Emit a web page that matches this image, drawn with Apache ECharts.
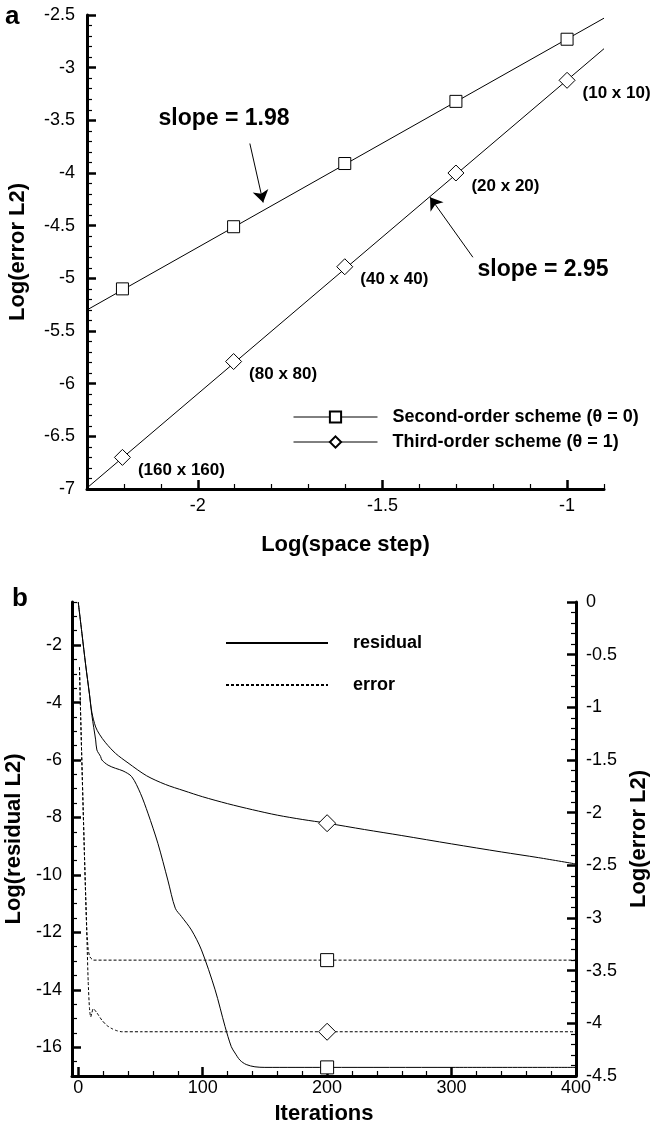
<!DOCTYPE html>
<html><head><meta charset="utf-8">
<script src="https://cdn.jsdelivr.net/npm/echarts@6/dist/echarts.min.js"></script>
<style>html,body{margin:0;padding:0;background:#fff}#c{width:653px;height:1121px}</style>
</head><body><div id="c"></div>
<script>
// ---------- Panel a ----------
const meshLabels = ['(10 x 10)', '(20 x 20)', '(40 x 40)', '(80 x 80)', '(160 x 160)'];
const logSpaceStep = [-1.0, -1.301, -1.602, -1.903, -2.204];
const errSecondOrder = [-2.73, -3.32, -3.91, -4.51, -5.10];
const errThirdOrder = [-3.12, -4.00, -4.89, -5.79, -6.70];
const fitX = [-2.3, -0.9];
const fitSecondOrder = [-5.30, -2.53];
const fitThirdOrder = [-6.99, -2.82];
const slopeTexts = ['slope = 1.98', 'slope = 2.95'];
const slopeTextX = [-1.929, -1.065];
const slopeTextY = [-3.48, -4.92];
const arrowFromX = [-1.859, -1.255];
const arrowFromY = [-3.72, -4.80];
const arrowToX = [-1.823, -1.371];
const arrowToY = [-4.28, -4.23];
const aXTicks = [-2, -1.5, -1];
const aXMinor = [-2.2, -2.1, -1.9, -1.8, -1.7, -1.6, -1.4, -1.3, -1.2, -1.1, -0.9];
const aYTicks = [-7, -6.5, -6, -5.5, -5, -4.5, -4, -3.5, -3, -2.5];
const aYMinor = [-6.9,-6.8,-6.7,-6.6,-6.4,-6.3,-6.2,-6.1,-5.9,-5.8,-5.7,-5.6,-5.4,-5.3,-5.2,-5.1,-4.9,-4.8,-4.7,-4.6,-4.4,-4.3,-4.2,-4.1,-3.9,-3.8,-3.7,-3.6,-3.4,-3.3,-3.2,-3.1,-2.9,-2.8,-2.7,-2.6];
const legendA = ['Second-order scheme (θ = 0)', 'Third-order scheme (θ = 1)'];

// ---------- Panel b ----------
const resThirdIter = [0, 3, 6, 9, 11, 14, 17, 22, 30, 40, 55, 70, 85, 100, 120, 140, 160, 180, 200, 230, 260, 300, 340, 370, 400];
const resThirdVal = [-0.5, -1.6, -2.7, -3.7, -4.35, -4.85, -5.1, -5.4, -5.77, -6.1, -6.55, -6.85, -7.07, -7.28, -7.52, -7.73, -7.92, -8.07, -8.2, -8.42, -8.63, -8.92, -9.2, -9.4, -9.62];
const resSecondIter = [0, 3, 6, 9, 11, 14, 15, 18, 19, 24, 30, 36, 43, 50, 56, 64, 72, 78, 83, 91, 99, 110, 118, 123, 126, 130, 135, 142, 150, 200, 300, 400];
const resSecondVal = [-0.5, -1.6, -2.7, -3.7, -4.45, -5.3, -5.65, -5.88, -6.0, -6.18, -6.29, -6.38, -6.58, -7.16, -7.85, -8.9, -10.18, -11.16, -11.45, -11.92, -12.61, -14.0, -15.28, -15.98, -16.2, -16.45, -16.6, -16.68, -16.7, -16.7, -16.7, -16.7];
const errSecondIter = [1, 2, 3, 4, 5, 6, 7, 8, 9, 10, 12, 15, 20, 50, 100, 200, 300, 400];
const errSecondVal = [-0.62, -1.1, -1.55, -1.98, -2.4, -2.8, -3.15, -3.3, -3.36, -3.38, -3.4, -3.4, -3.4, -3.4, -3.4, -3.4, -3.4, -3.4];
const errThirdIter = [1, 2, 3, 4, 5, 6, 7, 8, 9, 10, 11, 12, 15, 19, 23, 27, 31, 35, 50, 100, 200, 300, 400];
const errThirdVal = [-0.62, -1.1, -1.55, -1.98, -2.4, -2.8, -3.2, -3.6, -3.85, -3.94, -3.9, -3.86, -3.9, -3.97, -4.02, -4.05, -4.07, -4.08, -4.08, -4.08, -4.08, -4.08, -4.08];
const markerIter = 200;
const bXTicks = [0, 100, 200, 300, 400];
const bXMinor = [20,40,60,80,120,140,160,180,220,240,260,280,320,340,360,380];
const bYLeftTicks = [-16, -14, -12, -10, -8, -6, -4, -2];
const bYLeftMinor = [-17,-16.5,-15.5,-15,-14.5,-13.5,-13,-12.5,-11.5,-11,-10.5,-9.5,-9,-8.5,-7.5,-7,-6.5,-5.5,-5,-4.5,-3.5,-3,-2.5,-1.5,-1,-0.5];
const bYRightTicks = [-4.5, -4, -3.5, -3, -2.5, -2, -1.5, -1, -0.5, 0];
const bYRightMinor = [-4.4,-4.3,-4.2,-4.1,-3.9,-3.8,-3.7,-3.6,-3.4,-3.3,-3.2,-3.1,-2.9,-2.8,-2.7,-2.6,-2.4,-2.3,-2.2,-2.1,-1.9,-1.8,-1.7,-1.6,-1.4,-1.3,-1.2,-1.1,-0.9,-0.8,-0.7,-0.6,-0.4,-0.3,-0.2,-0.1];
const legendB = ['residual', 'error'];

// ---------- helpers ----------
const FONT = 'Liberation Sans, Arial, Helvetica, sans-serif';
const zip = (xs, ys) => xs.map((x, i) => [x, ys[i]]);
const at = (xs, ys, x) => ys[xs.indexOf(x)];

function majorAxis(o) {
  return Object.assign({
    type: 'value', scale: true, splitLine: { show: false },
    axisLine: { show: true, onZero: false, lineStyle: { color: '#000', width: 3 } },
    axisTick: { show: true, inside: true, length: 9, customValues: o.ticks, lineStyle: { color: '#000', width: 2.5 } },
    axisLabel: { show: true, customValues: o.ticks, color: '#000', fontSize: 18, fontFamily: FONT, margin: o.margin },
    nameLocation: 'middle',
    nameTextStyle: { color: '#000', fontSize: 22, fontWeight: 'bold', fontFamily: FONT }
  }, o.extra);
}
function minorAxis(o) {
  return Object.assign({
    type: 'value', scale: true, splitLine: { show: false },
    axisLine: { show: false, onZero: false },
    axisTick: { show: true, inside: true, length: 5, customValues: o.ticks, lineStyle: { color: '#000', width: 1.2 } },
    axisLabel: { show: false }
  }, o.extra);
}

const chart = echarts.init(document.getElementById('c'), null, { renderer: 'canvas' });
const symStyle = { color: '#fff', borderColor: '#000', borderWidth: 1, opacity: 1 };

chart.setOption({
  animation: false,
  backgroundColor: '#fff',
  textStyle: { fontFamily: FONT },
  grid: [
    { left: 87, top: 15, width: 517, height: 474, outerBoundsMode: 'none', containLabel: false },
    { left: 72, top: 602, width: 504, height: 474, outerBoundsMode: 'none', containLabel: false }
  ],
  xAxis: [
    majorAxis({ ticks: aXTicks, margin: 8, extra: { gridIndex: 0, min: -2.3, max: -0.9, position: 'bottom', name: 'Log(space step)', nameGap: 45 } }),
    minorAxis({ ticks: aXMinor, extra: { gridIndex: 0, min: -2.3, max: -0.9, position: 'bottom' } }),
    majorAxis({ ticks: bXTicks, margin: 3, extra: { gridIndex: 1, min: -5, max: 400, position: 'bottom', name: 'Iterations', nameGap: 27 } }),
    minorAxis({ ticks: bXMinor, extra: { gridIndex: 1, min: -5, max: 400, position: 'bottom' } })
  ],
  yAxis: [
    majorAxis({ ticks: aYTicks, margin: 12, extra: { gridIndex: 0, min: -7, max: -2.5, position: 'left', name: 'Log(error L2)', nameGap: 58, nameRotate: 90 } }),
    minorAxis({ ticks: aYMinor, extra: { gridIndex: 0, min: -7, max: -2.5, position: 'left' } }),
    majorAxis({ ticks: bYLeftTicks, margin: 10, extra: { gridIndex: 1, min: -17, max: -0.5, position: 'left', name: 'Log(residual L2)', nameGap: 37, nameRotate: 90 } }),
    minorAxis({ ticks: bYLeftMinor, extra: { gridIndex: 1, min: -17, max: -0.5, position: 'left' } }),
    majorAxis({ ticks: bYRightTicks, margin: 10, extra: { gridIndex: 1, min: -4.5, max: 0, position: 'right', name: 'Log(error L2)', nameGap: 49, nameRotate: 90 } }),
    minorAxis({ ticks: bYRightMinor, extra: { gridIndex: 1, min: -4.5, max: 0, position: 'right' } })
  ],
  legend: [
    { orient: 'vertical', left: 293, top: 408, padding: 0, itemWidth: 84, itemHeight: 14, itemGap: 7, data: legendA,
      lineStyle: { color: '#000', width: 1, opacity: 1, type: 'solid' },
      textStyle: { color: '#000', fontSize: 18, fontWeight: 'bold', fontFamily: FONT, padding: [0, 0, 0, 10] } },
    { orient: 'vertical', left: 225, top: 634, padding: 0, itemWidth: 102, itemHeight: 14, itemGap: 24, data: legendB,
      itemStyle: { opacity: 0 },
      textStyle: { color: '#000', fontSize: 18, fontWeight: 'bold', fontFamily: FONT, padding: [0, 0, 0, 20] } }
  ],
  graphic: [
    { type: 'text', left: 5, top: 4, style: { text: 'a', font: 'bold 26px ' + FONT, fill: '#000' } },
    { type: 'text', left: 12, top: 586, style: { text: 'b', font: 'bold 26px ' + FONT, fill: '#000' } }
  ],
  series: [
    // panel a: fit lines
    { type: 'line', xAxisIndex: 0, yAxisIndex: 0, data: zip(fitX, fitSecondOrder), symbol: 'none', silent: true,
      lineStyle: { color: '#000', width: 1 }, z: 2 },
    { type: 'line', xAxisIndex: 0, yAxisIndex: 0, data: zip(fitX, fitThirdOrder), symbol: 'none', silent: true,
      lineStyle: { color: '#000', width: 1 }, z: 2 },
    // panel a: markers (connecting line hidden; fit line drawn above)
    { name: legendA[0], type: 'line', xAxisIndex: 0, yAxisIndex: 0, data: zip(logSpaceStep, errSecondOrder),
      symbol: 'rect', symbolSize: 12, showSymbol: true, lineStyle: { color: '#000', width: 1, opacity: 0 }, itemStyle: symStyle, z: 3 },
    { name: legendA[1], type: 'line', xAxisIndex: 0, yAxisIndex: 0, data: zip(logSpaceStep, errThirdOrder),
      symbol: 'diamond', symbolSize: 16, showSymbol: true, lineStyle: { color: '#000', width: 1, opacity: 0 }, itemStyle: symStyle, z: 3,
      label: { show: true, position: 'right', distance: 7, offset: [0, 13], formatter: p => meshLabels[p.dataIndex],
        color: '#000', fontSize: 17, fontWeight: 'bold', fontFamily: FONT } },
    // panel a: slope annotations
    { type: 'lines', coordinateSystem: 'cartesian2d', xAxisIndex: 0, yAxisIndex: 0, silent: true,
      symbol: ['none', 'arrow'], symbolSize: [0, 12], lineStyle: { color: '#000', width: 1, opacity: 1 },
      data: arrowFromX.map((x, i) => ({ coords: [[x, arrowFromY[i]], [arrowToX[i], arrowToY[i]]] })), z: 4 },
    { type: 'scatter', xAxisIndex: 0, yAxisIndex: 0, symbolSize: 0, silent: true, itemStyle: { opacity: 1 },
      data: slopeTexts.map((t, i) => ({ name: t, value: [slopeTextX[i], slopeTextY[i]] })),
      label: { show: true, position: 'inside', formatter: p => p.name, color: '#000', opacity: 1, fontSize: 23, fontWeight: 'bold', fontFamily: FONT } },
    // panel b: curves
    { name: legendB[0], type: 'line', xAxisIndex: 2, yAxisIndex: 2, data: zip(resThirdIter, resThirdVal), symbol: 'none',
      smooth: 0.3, itemStyle: { color: '#000' }, lineStyle: { color: '#000', width: 1 } },
    { name: legendB[0], type: 'line', xAxisIndex: 2, yAxisIndex: 2, data: zip(resSecondIter, resSecondVal), symbol: 'none',
      smooth: 0.3, itemStyle: { color: '#000' }, lineStyle: { color: '#000', width: 1 } },
    { name: legendB[1], type: 'line', xAxisIndex: 2, yAxisIndex: 4, data: zip(errSecondIter, errSecondVal), symbol: 'none',
      itemStyle: { color: '#000' }, lineStyle: { color: '#000', width: 1, type: [3, 2] } },
    { name: legendB[1], type: 'line', xAxisIndex: 2, yAxisIndex: 4, data: zip(errThirdIter, errThirdVal), symbol: 'none',
      smooth: 0.2, itemStyle: { color: '#000' }, lineStyle: { color: '#000', width: 1, type: [3, 2] } },
    // panel b: markers at iteration 200
    { type: 'scatter', xAxisIndex: 2, yAxisIndex: 2, symbol: 'diamond', symbolSize: 17, itemStyle: symStyle, z: 5,
      data: [[markerIter, at(resThirdIter, resThirdVal, markerIter)]] },
    { type: 'scatter', xAxisIndex: 2, yAxisIndex: 2, symbol: 'rect', symbolSize: 13, itemStyle: symStyle, z: 5,
      data: [[markerIter, at(resSecondIter, resSecondVal, markerIter)]] },
    { type: 'scatter', xAxisIndex: 2, yAxisIndex: 4, symbol: 'rect', symbolSize: 13, itemStyle: symStyle, z: 5,
      data: [[markerIter, at(errSecondIter, errSecondVal, markerIter)]] },
    { type: 'scatter', xAxisIndex: 2, yAxisIndex: 4, symbol: 'diamond', symbolSize: 17, itemStyle: symStyle, z: 5,
      data: [[markerIter, at(errThirdIter, errThirdVal, markerIter)]] }
  ]
});
</script></body></html>
